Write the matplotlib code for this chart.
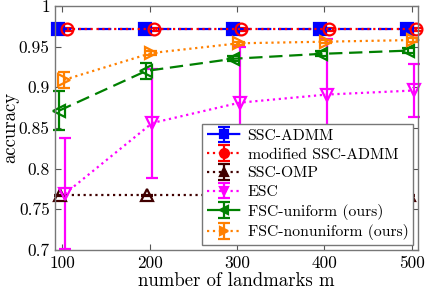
import numpy as np
import matplotlib
matplotlib.use("Agg")
import matplotlib.pyplot as plt
from matplotlib.lines import Line2D

plt.rcParams['font.family'] = ['cmr10', 'DejaVu Serif']
plt.rcParams['axes.formatter.use_mathtext'] = True
plt.rcParams['mathtext.fontset'] = 'cm'

# data
m = [100, 200, 300, 400, 500]
ssc_admm = [0.971, 0.971, 0.971, 0.971, 0.971]
ssc_admm_err = [0.003, 0.003, 0.003, 0.003, 0.003]
mod_admm = [0.971, 0.971, 0.971, 0.971, 0.971]
mod_admm_err = [0.002, 0.002, 0.002, 0.002, 0.002]
ssc_omp = [0.767, 0.767, 0.767, 0.767, 0.767]
ssc_omp_err = [0.001, 0.001, 0.001, 0.001, 0.001]
esc = [0.769, 0.856, 0.881, 0.891, 0.896]
esc_err = [0.068, 0.067, 0.069, 0.068, 0.032]
fsc_uni = [0.871, 0.920, 0.935, 0.941, 0.945]
fsc_uni_err = [0.024, 0.010, 0.003, 0.003, 0.003]
fsc_non = [0.909, 0.942, 0.954, 0.956, 0.958]
fsc_non_err = [0.010, 0.003, 0.002, 0.002, 0.002]

labels = ['SSC-ADMM', 'modified SSC-ADMM', 'SSC-OMP', 'ESC',
          'FSC-uniform (ours)', 'FSC-nonuniform (ours)']
series = [ssc_admm, mod_admm, ssc_omp, esc, fsc_uni, fsc_non]
errors = [ssc_admm_err, mod_admm_err, ssc_omp_err, esc_err, fsc_uni_err, fsc_non_err]

colors = ['#0000ff', '#ff0000', '#400000', '#ff00ff', '#008000', '#ff8000']
styles = [(0, (6, 3)), ':', ':', ':', (0, (6, 3)), ':']
markers = ['s', 'o', '^', 'v', '<', '>']
shifts = [-5, 5, -3, 3, -4, 2]

fig, ax = plt.subplots(figsize=(4.25, 2.94), dpi=100)
fig.subplots_adjust(left=0.13, right=0.983, top=0.98, bottom=0.15)

for y, e, lab, c, ls, mk, s in zip(series, errors, labels, colors, styles, markers, shifts):
    x = np.array(m) + s
    filled = mk == 's'
    ax.errorbar(x, y, yerr=e, color=c, linestyle=ls, linewidth=1.6,
                marker=mk, markersize=8.5,
                markerfacecolor=c if filled else 'none',
                markeredgewidth=1.6, capsize=4, elinewidth=1.6, label=lab,
                clip_on=False)

ax.set_xlim(92, 507)
ax.set_ylim(0.7, 1.0)
ax.set_xticks(m)
ax.set_xticklabels(['100', '200', '300', '400', '500'])
yt = [0.7, 0.75, 0.8, 0.85, 0.9, 0.95, 1.0]
ax.set_yticks(yt)
ax.set_yticklabels(['0.7', '0.75', '0.8', '0.85', '0.9', '0.95', '1'])
ax.tick_params(direction='in', top=True, right=True, labelsize=12.5,
               color='#555555', length=4, pad=4)
for sp in ax.spines.values():
    sp.set_color('#777777')
    sp.set_linewidth(1.0)
ax.set_xlabel('number of landmarks m', fontsize=13.5, labelpad=1)
ax.set_ylabel('accuracy', fontsize=13.5, labelpad=0)

leg = ax.legend(loc='lower right', fontsize=11.3, fancybox=False, framealpha=1,
                edgecolor='#777777', handlelength=2.2, borderpad=0.3,
                labelspacing=0.3, handletextpad=0.4, borderaxespad=0.3,
                markerscale=0.75)
leg.get_frame().set_linewidth(1.0)
for ln in leg.findobj(Line2D):
    if ln.get_marker() not in (None, 'None', '', '_'):
        ln.set_markerfacecolor(ln.get_color())

fig.savefig('out.png', dpi=100)
